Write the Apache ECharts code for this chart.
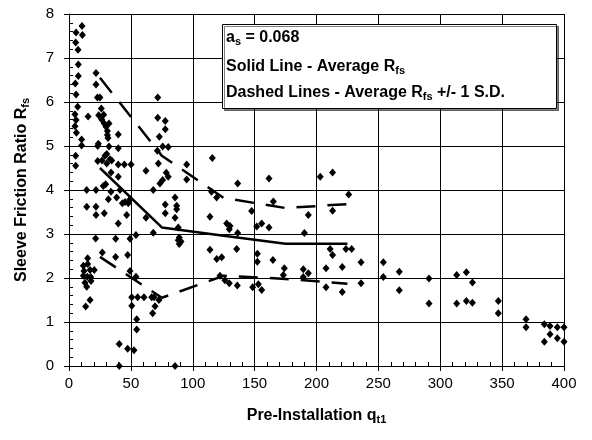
<!DOCTYPE html>
<html><head><meta charset="utf-8">
<script src="https://cdn.jsdelivr.net/npm/echarts@6/dist/echarts.min.js"></script>
<style>html,body{margin:0;padding:0;background:#fff}#c{width:592px;height:440px}</style>
</head><body><div id="c"></div>
<script>
// Scatter data: Pre-installation q_t1 vs sleeve friction ratio R_fs
var pointsQ = [10.5,5.7,10.8,5.4,7.3,7.5,7.5,5.1,5.7,7.0,4.8,5.7,4.8,6.0,10.2,10.2,5.4,5.4,
21.8,21.8,23.0,25.0,26.1,24,28,26.4,28.5,32.3,29.9,31,31,31.5,15.4,23.7,23.2,32.3,23.2,26.7,29.1,30.5,33.1,30.5,34.5,34,
39.8,39.8,39.8,44.7,50.1,39.8,62.2,
71.7,71.7,77.8,77.8,73,71.4,75.7,80.2,72.2,78.6,80.2,73.5,75.7,
14.3,21.8,27.7,29.6,33.9,41.2,38.5,31.8,43.1,45.3,47.9,49.3,14.3,21.8,21.8,28.5,39.8,46.6,62.2,68.1,77.8,77.8,87,85.7,87,85.7,
21.5,37.7,49.3,54.1,68.1,26.9,37.7,47.4,15.1,11.6,15.1,12.1,17,11.6,14.8,17.5,12.9,14.3,17.8,20.4,49.3,54.1,17,13.5,
50.7,55.5,60.6,66.8,68.7,50.7,69.5,72.7,67.6,54.7,54.7,40.6,47.4,52.5,40.6,85.7,
95.1,95.1,115.8,136.3,161.6,115.2,119.3,113.9,127.4,130.1,147.6,165.1,151.7,155.7,129.5,136.3,161.6,193.4,190.2,
88.3,89.1,88.3,90.5,89.1,113.9,119.4,123.4,135.5,152.2,152.2,164.8,174,173.2,189.3,193.4,189.3,122,126,129.5,136,148.4,153,155.7,
213,211,223.8,228.4,213,236,254,207.7,220.8,266.9,254,207.7,220.8,236,266.9,
290.9,290.9,313.3,321.1,326,313.3,321.1,326,346.9,346.9,369.3,369.3,384.1,388.7,394.6,400,388.7,394.6,384.1,400,
203,213,226];
var pointsR = [7.73,7.58,7.52,7.35,7.19,6.85,6.59,6.42,6.17,5.89,5.72,5.59,5.45,5.30,5.15,5.01,4.78,4.55,
6.66,6.40,6.10,6.10,5.85,5.70,5.71,5.6,5.51,5.51,5.44,5.34,5.25,5.18,5.67,5.05,5.0,4.99,4.66,4.67,4.78,4.82,4.70,4.60,4.67,4.40,
5.26,4.95,4.58,4.58,4.58,4.30,4.44,
6.10,5.64,5.57,5.38,5.21,4.89,4.99,4.98,4.60,4.39,4.30,4.15,4.23,
4.0,4.0,4.09,4.13,3.96,4.0,3.83,3.79,3.70,3.73,3.70,3.79,3.62,3.62,3.43,3.47,3.24,3.43,3.37,4.0,3.67,3.47,3.64,3.37,3.56,3.83,
2.90,2.89,2.89,2.98,3.03,2.58,2.48,2.52,2.45,2.28,2.32,2.16,2.18,2.05,2.03,2.02,1.89,1.80,1.93,2.18,2.16,2.03,1.5,1.35,
1.56,1.56,1.56,1.56,1.56,1.37,1.36,1.5,1.20,1.06,0.83,0.50,0.39,0.36,0,0,
4.58,4.24,4.73,4.15,4.26,3.96,3.83,3.39,3.24,3.18,3.52,3.74,3.17,3.24,3.11,3.02,3.15,3.43,3.02,
3.15,2.92,2.86,2.83,2.77,2.64,2.43,2.47,2.66,2.55,2.37,2.41,2.22,2.07,2.2,2.11,2.02,2.05,1.95,1.88,1.83,1.79,1.86,1.73,
3.53,2.66,2.66,2.66,2.52,2.36,2.36,2.22,2.25,2.14,2.02,1.79,1.68,1.88,1.72,
1.99,1.42,2.07,2.13,1.90,1.42,1.48,1.44,1.48,1.20,1.06,0.88,0.95,0.91,0.88,0.88,0.72,0.63,0.55,0.55,
4.3,4.4,3.9];

// Binned statistics
var binCenters = [25, 75, 125, 175, 225];
var avgRfs   = [4.50, 3.15, 2.96, 2.78, 2.78];
var upperRfs = [6.55, 4.78, 3.82, 3.59, 3.68];
var lowerRfs = [2.48, 1.55, 2.05, 1.98, 1.87];

var xTicks = [0,50,100,150,200,250,300,350,400];
var yTicks = [0,1,2,3,4,5,6,7,8];

function pairs(xs, ys){ var o=[]; for(var i=0;i<xs.length;i++) o.push([xs[i], ys[i]]); return o; }

var FONT = '"Liberation Sans", Arial, sans-serif';
var sub = {fontSize:11,fontWeight:'bold',fontFamily:FONT,padding:[7,0,0,0]};
function rich(fs){ return {b:{fontSize:fs,fontWeight:'bold',fontFamily:FONT,fill:'#000',color:'#000'},
  s:{fontSize:11,fontWeight:'bold',fontFamily:FONT,fill:'#000',color:'#000',padding:[7,0,0,0]}}; }
var chart = echarts.init(document.getElementById('c'), null, {renderer:'canvas'});
chart.setOption({
  animation:false,
  backgroundColor:'#fff',
  grid:{left:69, right:28, top:14, bottom:74},
  xAxis:{type:'value', min:xTicks[0], max:xTicks[xTicks.length-1], interval:50,
    axisLine:{lineStyle:{color:'#000', width:1}},
    axisTick:{show:true, length:5, lineStyle:{color:'#000'}},
    minorTick:{show:true, splitNumber:5, length:-4, lineStyle:{color:'#000'}},
    splitLine:{show:true, lineStyle:{color:'#000', width:1}},
    axisLabel:{color:'#000', fontSize:15, fontFamily:FONT, margin:10},
    name:'{b|Pre-Installation q}{s|t1}', nameLocation:'middle', nameGap:41,
    nameTextStyle:{rich:rich(16)}
  },
  yAxis:{type:'value', min:yTicks[0], max:yTicks[yTicks.length-1], interval:1,
    axisLine:{show:true, lineStyle:{color:'#000', width:1}},
    axisTick:{show:true, length:5, lineStyle:{color:'#000'}},
    minorTick:{show:true, splitNumber:5, length:-4, lineStyle:{color:'#000'}},
    splitLine:{show:true, lineStyle:{color:'#000', width:1}},
    axisLabel:{color:'#000', fontSize:15, fontFamily:FONT, margin:15},
    name:'{b|Sleeve Friction Ratio R}{s|fs}', nameLocation:'middle', nameGap:38,
    nameTextStyle:{rich:rich(16)}
  },
  series:[
    {type:'scatter', data:pairs(pointsQ, pointsR), symbol:'diamond', symbolSize:[7,8],
     itemStyle:{color:'#000', opacity:1}, z:3},
    {type:'line', data:pairs(binCenters, avgRfs), symbol:'none',
     lineStyle:{color:'#000', width:2.5}, z:4},
    {type:'line', data:pairs(binCenters, upperRfs), symbol:'none',
     lineStyle:{color:'#000', width:2.5, type:[19,12]}, z:4},
    {type:'line', data:pairs(binCenters, lowerRfs), symbol:'none',
     lineStyle:{color:'#000', width:2.5, type:[19,12]}, z:4}
  ],
  graphic:[
    {type:'rect', left:222, top:24, z:10,
     shape:{width:334, height:84},
     style:{fill:'#fff', stroke:'#000', lineWidth:1, shadowColor:'rgba(0,0,0,0.5)', shadowOffsetX:2, shadowOffsetY:2, shadowBlur:0}},
    {type:'text', left:226, top:30, z:11,
     style:{text:'{b|a}{s|s}{b| = 0.068}', rich:rich(16)}},
    {type:'text', left:226, top:59, z:11,
     style:{text:'{b|Solid Line - Average R}{s|fs}', rich:rich(16)}},
    {type:'text', left:226, top:85, z:11,
     style:{text:'{b|Dashed Lines - Average R}{s|fs}{b| +/- 1 S.D.}', rich:rich(16)}}
  ]
});
</script></body></html>
